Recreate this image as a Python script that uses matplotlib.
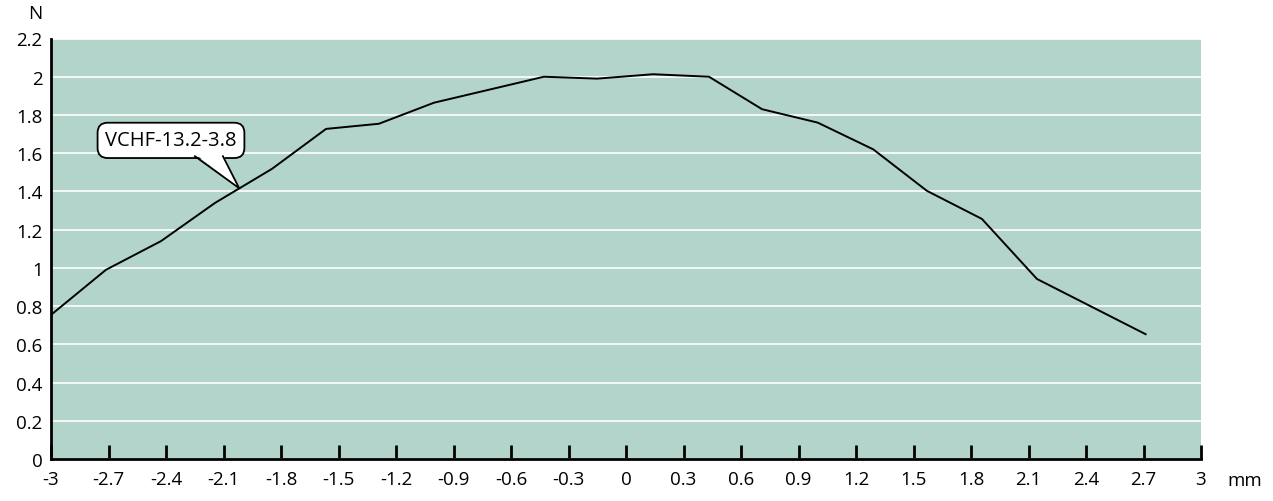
import numpy as np
import matplotlib.pyplot as plt
from matplotlib.patches import Polygon

plt.rcParams['font.family'] = ['Open Sans', 'DejaVu Sans']

# data
x = [-3.0, -2.713, -2.426, -2.144, -1.847, -1.565, -1.289, -1.002, -0.428,
     -0.151, 0.141, 0.433, 0.71, 1.0, 1.29, 1.57, 1.857, 2.144, 2.711]
y = [0.754, 0.99, 1.14, 1.34, 1.518, 1.727, 1.754, 1.864, 2.0,
     1.99, 2.013, 2.0, 1.83, 1.76, 1.62, 1.403, 1.256, 0.942, 0.653]

xticks = [-3, -2.7, -2.4, -2.1, -1.8, -1.5, -1.2, -0.9, -0.6, -0.3, 0,
          0.3, 0.6, 0.9, 1.2, 1.5, 1.8, 2.1, 2.4, 2.7, 3]
yticks = [0, 0.2, 0.4, 0.6, 0.8, 1, 1.2, 1.4, 1.6, 1.8, 2, 2.2]
label = 'VCHF-13.2-3.8'

fig = plt.figure(figsize=(12.73, 5.02), dpi=100)
ax = fig.add_axes([51/1273, 42/502, 1150/1273, 420.5/502])
ax.set_facecolor('#b3d4cb')

ax.plot(x, y, color='black', lw=1.4, zorder=3)

ax.set_xlim(-3, 3)
ax.set_ylim(0, 2.2)
ax.set_xticks(xticks)
ax.set_xticklabels([f'{t:g}' for t in xticks])
ax.set_yticks(yticks)
ax.set_yticklabels([f'{t:g}' for t in yticks])
ax.tick_params(axis='x', direction='in', length=10, width=2, labelsize=13.5, pad=8)
ax.tick_params(axis='y', length=0, labelsize=13.5, pad=6)
ax.grid(axis='y', color='white', lw=1.2)
ax.set_axisbelow(True)

for s in ['top', 'right']:
    ax.spines[s].set_visible(False)
ax.spines['left'].set_linewidth(2)
ax.spines['bottom'].set_linewidth(2)

ax.text(-3.083, 2.334, 'N', fontsize=13.5, ha='center', va='center')
ax.text(3.14, -0.11, 'mm', fontsize=13.5, ha='left', va='center')

# callout box and its tail
ax.text(-2.374, 1.667, label, fontsize=14.5, ha='center', va='center', zorder=5,
        bbox=dict(boxstyle='round,pad=0.38,rounding_size=0.5',
                  fc='white', ec='black', lw=1.3))
tip = (-2.018, 1.4165)
base_y = 1.584
bx1, bx2 = -2.249, -2.103
ax.add_patch(Polygon([(bx1, base_y + 0.012), (bx2, base_y + 0.012), tip],
                     closed=True, fc='white', ec='none', zorder=6))
ax.plot([bx1, tip[0], bx2], [base_y, tip[1], base_y], color='black',
        lw=1.3, zorder=7, solid_joinstyle='miter')

fig.savefig('out.png', dpi=100)
